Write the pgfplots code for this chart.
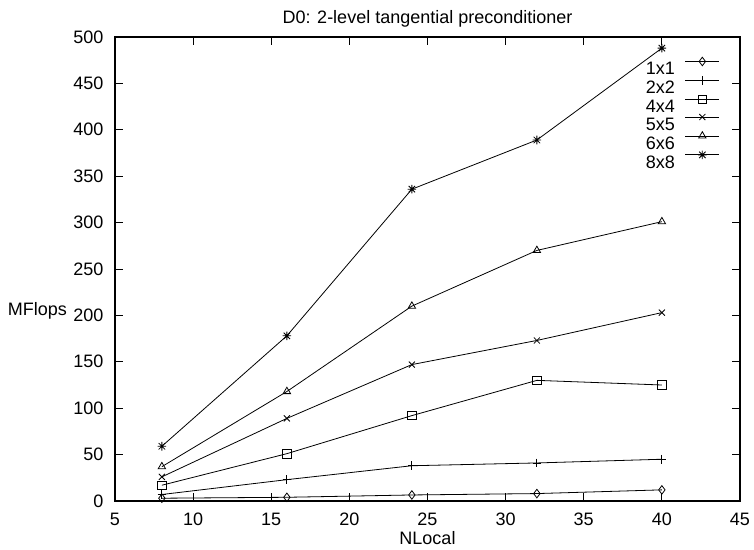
\documentclass[border=0pt]{standalone}
\usepackage{fontspec}
\setmainfont{Liberation Sans}
\usepackage{pgfplots}
\pgfplotsset{compat=1.18}
% gnuplot-style star: plus and cross together
\pgfdeclareplotmark{gstar}{%
  \pgfpathmoveto{\pgfqpoint{-\pgfplotmarksize}{0pt}}%
  \pgfpathlineto{\pgfqpoint{\pgfplotmarksize}{0pt}}%
  \pgfpathmoveto{\pgfqpoint{0pt}{-\pgfplotmarksize}}%
  \pgfpathlineto{\pgfqpoint{0pt}{\pgfplotmarksize}}%
  \pgfpathmoveto{\pgfqpoint{-0.75\pgfplotmarksize}{-0.75\pgfplotmarksize}}%
  \pgfpathlineto{\pgfqpoint{0.75\pgfplotmarksize}{0.75\pgfplotmarksize}}%
  \pgfpathmoveto{\pgfqpoint{-0.75\pgfplotmarksize}{0.75\pgfplotmarksize}}%
  \pgfpathlineto{\pgfqpoint{0.75\pgfplotmarksize}{-0.75\pgfplotmarksize}}%
  \pgfusepathqstroke}
\begin{document}
\fontsize{13.5}{15}\selectfont
\begin{tikzpicture}
\path[use as bounding box] (-86.25pt,-36.75pt) rectangle (479.25pt,375.75pt);
\begin{axis}[
  scale only axis,
  width=468.75pt,height=348pt,
  xmin=5,xmax=45,ymin=0,ymax=500,
  xtick={5,10,...,45},ytick={0,50,...,500},
  tick align=inside,xtick pos=both,ytick pos=both,
  major tick length=6pt,
  minor tick num=0,
  axis line style={line width=0.9pt},
  every tick/.style={black,line width=0.6pt},
  /pgf/number format/assume math mode=true,
  xticklabel style={anchor=base,yshift=-18.5pt,inner sep=0pt},
  yticklabel style={anchor=east,inner sep=0pt,xshift=-8.5pt},
  title={D0: 2-level tangential preconditioner},
  title style={at={(0.5,1)},anchor=base,yshift=4pt,inner sep=0pt},
  xlabel={NLocal},
  xlabel style={at={(axis description cs:0.5,0)},anchor=base,yshift=-32.5pt,inner sep=0pt},
  ylabel={MFlops},
  ylabel style={at={(axis description cs:-0.124,0.41)},rotate=-90,anchor=center,inner sep=0pt},
  every axis plot/.append style={black,line width=0.6pt,mark size=3.2pt,mark options={solid,line width=0.6pt}},
  legend plot pos=right,
  legend cell align=right,
  legend style={draw=none,fill=none,at={(0.968,0.957)},anchor=north east,inner sep=0pt,
    row sep=1pt,column sep=7.5pt,
    nodes={inner sep=0pt,text height=10pt,text depth=0pt}},
  legend image code/.code={\draw[mark repeat=2,mark phase=2] plot coordinates {(0pt,5pt) (12.75pt,5pt) (25.5pt,5pt)};},
]
\addplot[mark=diamond] coordinates {(8,3) (16,4) (24,6.5) (32,8) (40,12)};
\addplot[mark=+] coordinates {(8,7) (16,23) (24,38) (32,41) (40,45)};
\addplot[mark=square] coordinates {(8,17) (16,51) (24,92) (32,130) (40,125)};
\addplot[mark=x] coordinates {(8,26) (16,89) (24,147) (32,173) (40,203)};
\addplot[mark=triangle] coordinates {(8,37) (16,118) (24,210) (32,270) (40,301)};
\addplot[mark=gstar] coordinates {(8,59) (16,178) (24,336) (32,389) (40,488)};
\legend{1x1,2x2,4x4,5x5,6x6,8x8}
\end{axis}
\end{tikzpicture}
\end{document}
